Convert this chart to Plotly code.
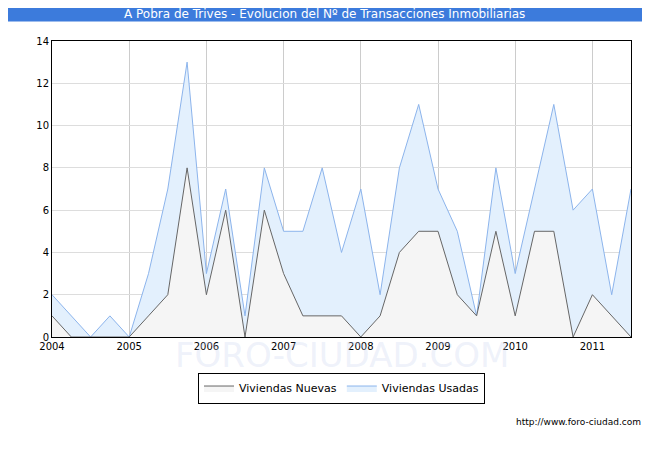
import plotly.graph_objects as go

x = [2004 + i * 0.25 for i in range(31)]
nuevas = [1,0,0,0, 0,1,2,8, 2,6,0,6, 3,1,1,1, 0,1,4,5, 5,2,1,5, 1,5,5,0, 2,1,0]
usadas = [2,1,0,1, 0,3,7,13, 3,7,1,8, 5,5,8,4, 7,2,8,11, 7,5,1,8, 3,7,11,6, 7,2,7]
years = list(range(2004, 2012))

fig = go.Figure()
fig.add_trace(go.Scatter(x=x, y=usadas, name="Viviendas Usadas", mode="lines", fill="tozeroy",
                         line=dict(color="#8cb4ec", width=1), fillcolor="#e3f0fd"))
fig.add_trace(go.Scatter(x=x, y=nuevas, name="Viviendas Nuevas", mode="lines", fill="tozeroy",
                         line=dict(color="#666666", width=1), fillcolor="#f5f5f5"))

# plot area: x 51..630, y 40..337
fig.update_layout(
    width=650, height=450, paper_bgcolor="#ffffff", plot_bgcolor="#ffffff",
    margin=dict(l=44, r=27, t=33, b=121, autoexpand=False),
    font=dict(family="DejaVu Sans", size=10, color="#000"),
    showlegend=True,
    legend=dict(orientation="h", x=0.5, xanchor="center", y=-0.12, yanchor="top",
                bordercolor="#000", borderwidth=1, traceorder="reversed", font=dict(size=11)),
    xaxis=dict(range=[2004, 2011.5], tickvals=years, ticktext=[str(y) for y in years],
               showgrid=True, gridcolor="#cccccc", showline=True, linecolor="#000", mirror=True,
               zeroline=False, ticks=""),
    yaxis=dict(range=[0, 14], dtick=2, showgrid=True, gridcolor="#dddddd", showline=True,
               linecolor="#000", mirror=True, zeroline=False, ticks=""),
    shapes=[dict(type="rect", xref="paper", yref="paper", x0=-0.08, x1=1.05, y0=1.066, y1=1.115,
                 fillcolor="#3c7bdc", line=dict(width=0), layer="below")],
    annotations=[
        dict(text="A Pobra de Trives - Evolucion del Nº de Transacciones Inmobiliarias", xref="paper", yref="paper",
             x=0.47, y=1.09, showarrow=False, font=dict(color="#ffffff", size=12), yanchor="middle"),
        dict(text="http://www.foro-ciudad.com", xref="paper", yref="paper", x=1.02, y=-0.31,
             showarrow=False, xanchor="right", font=dict(size=9)),
        dict(text="FORO-CIUDAD.COM", xref="paper", yref="paper", x=0.5, y=-0.06, showarrow=False,
             font=dict(size=34, color="rgba(200,210,240,0.3)"), yanchor="middle"),
    ],
)
fig.write_html("out.html")
